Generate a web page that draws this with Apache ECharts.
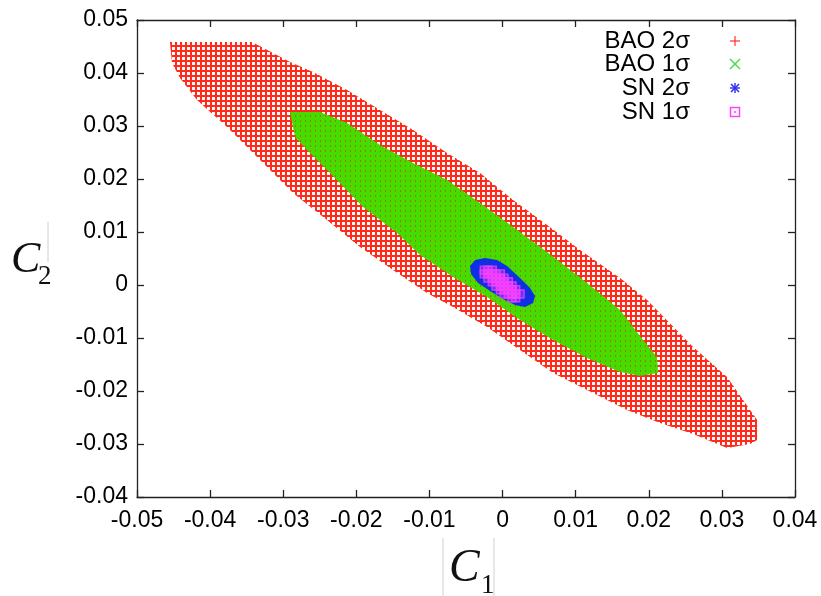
<!DOCTYPE html>
<html><head><meta charset="utf-8">
<script src="https://cdn.jsdelivr.net/npm/echarts@6/dist/echarts.min.js"></script>
<style>html,body{margin:0;padding:0;background:#fff}#c{width:821px;height:596px}</style>
</head><body><div id="c"></div>
<script>
// Axis ticks
const xTicks = [-0.05, -0.04, -0.03, -0.02, -0.01, 0, 0.01, 0.02, 0.03, 0.04];
const yTicks = [-0.04, -0.03, -0.02, -0.01, 0, 0.01, 0.02, 0.03, 0.04, 0.05];
const seriesNames = ['BAO 2σ', 'BAO 1σ', 'SN 2σ', 'SN 1σ'];

// Region outlines (C1, C2)
const bao2sigma = [
  [-0.04549, 0.04585], [-0.03427, 0.04585], [-0.03140, 0.04377], [-0.02907, 0.04208],
  [-0.02592, 0.04019], [-0.02127, 0.03679], [-0.01676, 0.03302], [-0.01224, 0.02925],
  [-0.00759, 0.02491], [-0.00308, 0.02113], [0.00144, 0.01604], [0.00609, 0.01132],
  [0.01060, 0.00660], [0.01607, 0.00132], [0.01977, -0.00283], [0.02606, -0.01170],
  [0.03071, -0.01736], [0.03290, -0.02170], [0.03482, -0.02547], [0.03482, -0.02925],
  [0.03386, -0.03000], [0.03071, -0.03075], [0.02606, -0.02811], [0.02155, -0.02604],
  [0.01703, -0.02358], [0.01238, -0.02038], [0.00691, -0.01660], [0.00239, -0.01226],
  [-0.00212, -0.00792], [-0.00677, -0.00415], [-0.01033, -0.00151], [-0.01498, 0.00283],
  [-0.01949, 0.00717], [-0.02401, 0.01226], [-0.02866, 0.01736], [-0.03317, 0.02358],
  [-0.03769, 0.02981], [-0.04179, 0.03491], [-0.04412, 0.03906], [-0.04521, 0.04189]
];
const bao1sigma = [
  [-0.02907, 0.03264], [-0.02497, 0.03264], [-0.02127, 0.03057], [-0.01676, 0.02642],
  [-0.01224, 0.02302], [-0.00759, 0.01981], [-0.00308, 0.01547], [0.00144, 0.01094],
  [0.00609, 0.00623], [0.01156, 0.00038], [0.01607, -0.00472], [0.01922, -0.01038],
  [0.02113, -0.01358], [0.02127, -0.01660], [0.01881, -0.01717], [0.01607, -0.01642],
  [0.01156, -0.01377], [0.00691, -0.01038], [0.00239, -0.00660], [-0.00212, -0.00226],
  [-0.00677, 0.00151], [-0.01129, 0.00566], [-0.01443, 0.00981], [-0.01908, 0.01472],
  [-0.02360, 0.02113], [-0.02633, 0.02491], [-0.02839, 0.02792]
];
const sn2sigma = [
  [-0.00445, 0.00358], [-0.00376, 0.00472], [-0.00239, 0.00509], [-0.00075, 0.00472],
  [0.00062, 0.00358], [0.00239, 0.00132], [0.00376, -0.00057], [0.00444, -0.00208],
  [0.00417, -0.00340], [0.00308, -0.00415], [0.00171, -0.00377], [0.00007, -0.00264],
  [-0.00171, -0.00113], [-0.00335, 0.00038], [-0.00431, 0.00208]
];
const sn1sigma = [
  [-0.0025, 0.0028], [-0.0020, 0.0028], [-0.0014, 0.0028],
  [-0.0025, 0.0021], [-0.0020, 0.0021], [-0.0014, 0.0021], [-0.0009, 0.0021], [-0.0003, 0.0021],
  [-0.0020, 0.0013], [-0.0014, 0.0013], [-0.0009, 0.0013], [-0.0003, 0.0013], [0.0002, 0.0013],
  [-0.0014, 0.0006], [-0.0009, 0.0006], [-0.0003, 0.0006], [0.0002, 0.0006], [0.0008, 0.0006],
  [-0.0009, -0.0002], [-0.0003, -0.0002], [0.0002, -0.0002], [0.0008, -0.0002], [0.0013, -0.0002],
  [-0.0003, -0.0009], [0.0002, -0.0009], [0.0008, -0.0009], [0.0013, -0.0009], [0.0018, -0.0009],
  [0.0002, -0.0017], [0.0008, -0.0017], [0.0013, -0.0017], [0.0018, -0.0017], [0.0024, -0.0017],
  [0.0013, -0.0024], [0.0018, -0.0024]
];

function makePattern(size, bg, draw) {
  const c = document.createElement('canvas');
  c.width = size; c.height = size;
  const g = c.getContext('2d');
  if (bg) { g.fillStyle = bg; g.fillRect(0, 0, size, size); }
  draw(g);
  return { image: c, repeat: 'repeat' };
}
const redFill = makePattern(5, null, g => {
  g.fillStyle = '#ff2a1a';
  g.fillRect(0, 0, 5, 2); g.fillRect(0, 0, 2, 5);
});
const greenFill = makePattern(5, '#46dc00', g => {
  g.fillStyle = '#9a7c00';
  g.fillRect(0, 0, 1, 2);
});

function polySeries(name, pts, fill, z) {
  return {
    type: 'custom', name: name, data: pts, z: z, silent: true,
    renderItem: function (params, api) {
      if (params.dataIndex !== 0) return null;
      return { type: 'polygon', shape: { points: pts.map(p => api.coord(p)) }, style: { fill: fill } };
    }
  };
}

const FONT = 'Liberation Sans';
const axisCommon = {
  type: 'value', interval: 0.01,
  axisLine: { show: true, onZero: false, lineStyle: { color: '#222', width: 1.3 } },
  axisTick: { show: true, inside: true, length: 7, lineStyle: { color: '#222', width: 1.3 } },
  splitLine: { show: false }
};

const chart = echarts.init(document.getElementById('c'), null, { renderer: 'canvas' });
const legendY = [41, 64, 88, 112];
const legendTextX = 690, legendSymX = 735;
const graphics = [];
seriesNames.forEach((n, i) => {
  graphics.push({ type: 'text', x: legendTextX, y: legendY[i], z: 100,
    style: { text: n, font: '24px "' + FONT + '"', fill: '#000', align: 'right', verticalAlign: 'middle' } });
});
// legend symbols
const s = 5;
graphics.push({ type: 'group', z: 100, children: [
  { type: 'line', shape: { x1: legendSymX - s, y1: legendY[0], x2: legendSymX + s, y2: legendY[0] }, style: { stroke: '#ff3030', lineWidth: 1.2 } },
  { type: 'line', shape: { x1: legendSymX, y1: legendY[0] - s, x2: legendSymX, y2: legendY[0] + s }, style: { stroke: '#ff3030', lineWidth: 1.2 } },
  { type: 'line', shape: { x1: legendSymX - s, y1: legendY[1] - s, x2: legendSymX + s, y2: legendY[1] + s }, style: { stroke: '#40dd40', lineWidth: 1.4 } },
  { type: 'line', shape: { x1: legendSymX - s, y1: legendY[1] + s, x2: legendSymX + s, y2: legendY[1] - s }, style: { stroke: '#40dd40', lineWidth: 1.4 } },
  { type: 'line', shape: { x1: legendSymX - s, y1: legendY[2], x2: legendSymX + s, y2: legendY[2] }, style: { stroke: '#2a2aee', lineWidth: 1.4 } },
  { type: 'line', shape: { x1: legendSymX, y1: legendY[2] - s, x2: legendSymX, y2: legendY[2] + s }, style: { stroke: '#2a2aee', lineWidth: 1.4 } },
  { type: 'line', shape: { x1: legendSymX - 4, y1: legendY[2] - 4, x2: legendSymX + 4, y2: legendY[2] + 4 }, style: { stroke: '#2a2aee', lineWidth: 1.4 } },
  { type: 'line', shape: { x1: legendSymX - 4, y1: legendY[2] + 4, x2: legendSymX + 4, y2: legendY[2] - 4 }, style: { stroke: '#2a2aee', lineWidth: 1.4 } },
  { type: 'rect', shape: { x: legendSymX - 4.5, y: legendY[3] - 4.5, width: 9, height: 9 }, style: { fill: 'none', stroke: '#ff44ff', lineWidth: 1.5 } },
  { type: 'rect', shape: { x: legendSymX - 1, y: legendY[3] - 1, width: 2, height: 2 }, style: { fill: '#ff66ff' } }
] });
// axis titles
graphics.push(
  { type: 'text', x: 11, y: 260, style: { text: 'C', font: 'italic 44px "Liberation Serif"', fill: '#111', align: 'left', verticalAlign: 'middle' } },
  { type: 'text', x: 38, y: 277, style: { text: '2', font: '27px "Liberation Serif"', fill: '#111', align: 'left', verticalAlign: 'middle' } },
  { type: 'line', shape: { x1: 48, y1: 222, x2: 48, y2: 262 }, style: { stroke: '#d0d0d0', lineWidth: 1 } },
  { type: 'text', x: 449, y: 569, style: { text: 'C', font: 'italic 46px "Liberation Serif"', fill: '#111', align: 'left', verticalAlign: 'middle' } },
  { type: 'text', x: 481, y: 586, style: { text: '1', font: '27px "Liberation Serif"', fill: '#111', align: 'left', verticalAlign: 'middle' } },
  { type: 'line', shape: { x1: 443, y1: 538, x2: 443, y2: 596 }, style: { stroke: '#d0d0d0', lineWidth: 1 } },
  { type: 'line', shape: { x1: 494, y1: 538, x2: 494, y2: 596 }, style: { stroke: '#d0d0d0', lineWidth: 1 } }
);

chart.setOption({
  animation: false,
  backgroundColor: '#fff',
  grid: { left: 137, right: 26, top: 20, bottom: 99, containLabel: false },
  xAxis: [
    Object.assign({}, axisCommon, { position: 'bottom', min: xTicks[0], max: xTicks[xTicks.length - 1],
      axisLabel: { show: true, margin: 12, color: '#000', fontFamily: FONT, fontSize: 23,
        formatter: v => String(Math.round(v * 100) / 100) } }),
    Object.assign({}, axisCommon, { position: 'top', min: xTicks[0], max: xTicks[xTicks.length - 1], axisLabel: { show: false } })
  ],
  yAxis: [
    Object.assign({}, axisCommon, { position: 'left', min: yTicks[0], max: yTicks[yTicks.length - 1],
      axisLabel: { show: true, margin: 9, color: '#000', fontFamily: FONT, fontSize: 23,
        formatter: v => String(Math.round(v * 100) / 100) } }),
    Object.assign({}, axisCommon, { position: 'right', min: yTicks[0], max: yTicks[yTicks.length - 1], axisLabel: { show: false } })
  ],
  series: [
    polySeries(seriesNames[0], bao2sigma, redFill, 1),
    polySeries(seriesNames[1], bao1sigma, greenFill, 2),
    polySeries(seriesNames[2], sn2sigma, '#0d30e6', 3),
    { type: 'scatter', name: seriesNames[3], data: sn1sigma, z: 4, silent: true,
      symbol: 'rect', symbolSize: 8,
      itemStyle: { color: 'rgba(255,80,255,0.4)', borderColor: '#ff38ff', borderWidth: 1.4 } }
  ],
  graphic: graphics
});
</script></body></html>
